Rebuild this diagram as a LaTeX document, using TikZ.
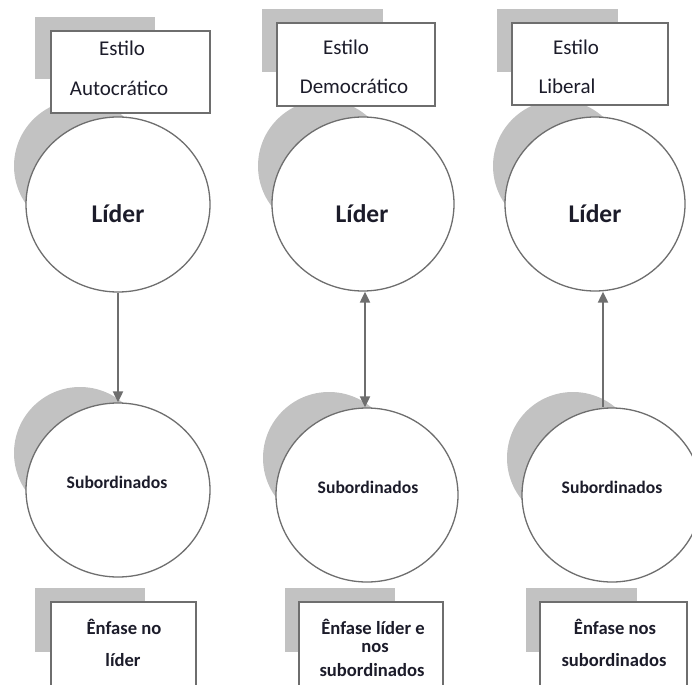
\documentclass[tikz,border=0pt]{standalone}
\usepackage{fontspec}
\setmainfont{Carlito}
\usetikzlibrary{shapes.geometric,arrows.meta,calc}
\definecolor{edge}{HTML}{6E6E6E}
\definecolor{shade}{HTML}{C2C2C2}
\definecolor{ink}{HTML}{1C1C2A}
\begin{document}
\begin{tikzpicture}[x=1pt,y=-1pt,
  lbl/.style={inner sep=0pt,text=ink},
  title/.style={lbl,font=\fontsize{21}{24}\selectfont},
  big/.style={lbl,font=\fontsize{25.5}{28}\selectfont\bfseries},
  small/.style={lbl,font=\fontsize{17.6}{20}\selectfont\bfseries},
  note/.style={lbl,font=\fontsize{18.6}{21}\selectfont\bfseries},
  orb/.style={ellipse,draw=edge,line width=1.3pt,fill=white,inner sep=0pt},
  orbshade/.style={circle,fill=shade,inner sep=0pt,minimum size=132pt},
  card/.style={draw=edge,line width=1.3pt,fill=white},
  cardshade/.style={fill=shade},
  link/.style={draw=edge,line width=2pt},
  tip/.style={Triangle[width=11pt,length=12pt]}
]
\useasboundingbox (0,0) rectangle (692,684);
\clip (0,0) rectangle (692,684);

% shadows behind the circles
\node[orbshade] (sl1) at (80,166) {};
\node[orbshade] (sl2) at (324,166) {};
\node[orbshade] (sl3) at (559,166) {};
\node[orbshade] (ss1) at (80,453) {};
\node[orbshade] (ss2) at (329,458) {};
\node[orbshade] (ss3) at (573,458) {};

% title cards with their shadows
\fill[cardshade] (35,17) rectangle (155,79);
\fill[cardshade] (262,9) rectangle (383,72);
\fill[cardshade] (497,9) rectangle (618,72);
\draw[card] (51,31) rectangle (210,113);
\draw[card] (277,23) rectangle (435,106);
\draw[card] (512,23) rectangle (668,105);

% bottom cards with their shadows
\fill[cardshade] (35,588) rectangle (145,652);
\fill[cardshade] (285,588) rectangle (395,652);
\fill[cardshade] (526,588) rectangle (637,652);
\draw[card] (51,602) rectangle (196,700);
\draw[card] (299,602) rectangle (443,700);
\draw[card] (540,602) rectangle (687,700);

% leader and subordinate circles
\node[orb,minimum width=184pt,minimum height=175pt] (ld1) at (118,204.5) {};
\node[orb,minimum width=182pt,minimum height=174pt] (ld2) at (363,204) {};
\node[orb,minimum width=180pt,minimum height=174pt] (ld3) at (595,204) {};
\node[orb,minimum width=184pt,minimum height=174pt] (sb1) at (118,490) {};
\node[orb,minimum width=182pt,minimum height=174pt] (sb2) at (367,495) {};
\node[orb,minimum width=180pt,minimum height=174pt] (sb3) at (612,495) {};

% connectors
\coordinate (ax2) at (365,0);
\coordinate (ax3) at (603,0);
\draw[link,-{Triangle[width=10pt,length=11pt]}] (ld1.south) -- (sb1.north);
\draw[link,{Triangle[width=10pt,length=11pt]}-{Triangle[width=10pt,length=11pt]}] (ld2.south -| ax2) -- (sb2.north -| ax2);
\draw[link,-{Triangle[width=10pt,length=11pt]}] (sb3.north -| ax3) -- (ld3.south -| ax3);

% texts
\node[title] (t1a) at (122,48) {Estilo};
\node[title] (t1b) at (119,88) {Autocrático};
\node[title] (t2a) at (346,47) {Estilo};
\node[title] (t2b) at (354,86) {Democrático};
\node[title] (t3a) at (576,47) {Estilo};
\node[title] (t3b) at (567,86) {Liberal};

\node[big] (l1) at (118,214) {Líder};
\node[big] (l2) at (362,214) {Líder};
\node[big] (l3) at (595,214) {Líder};

\node[small] (s1) at (117,482) {Subordinados};
\node[small] (s2) at (368,487) {Subordinados};
\node[small] (s3) at (612,487) {Subordinados};

\node[note] (n1a) at (124,627) {Ênfase no};
\node[note] (n1b) at (123,660) {líder};
\node[note] (n2a) at (373,627) {Ênfase líder e};
\node[note] (n2b) at (375,648) {nos};
\node[note] (n2c) at (372,670) {subordinados};
\node[note] (n3a) at (615,627) {Ênfase nos};
\node[note] (n3b) at (614,660) {subordinados};
\end{tikzpicture}
\end{document}
